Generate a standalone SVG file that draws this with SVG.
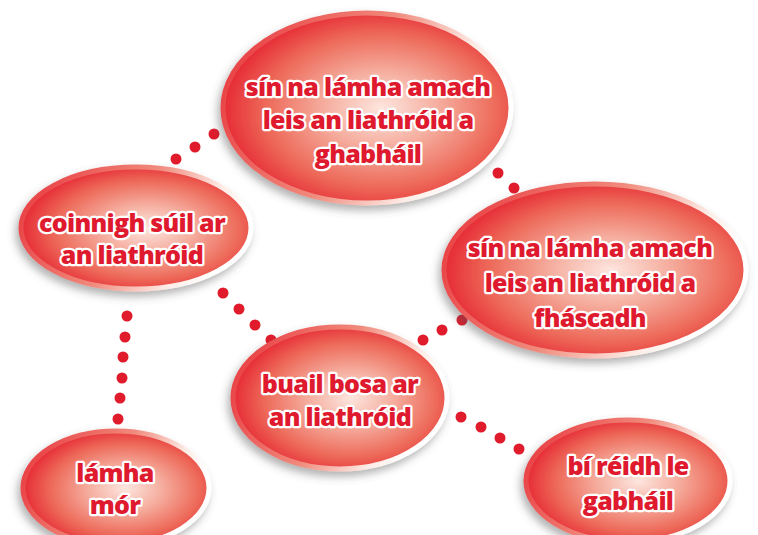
<svg xmlns="http://www.w3.org/2000/svg" width="758" height="535" viewBox="0 0 758 535">
<defs>
<radialGradient id="fill" cx="0.55" cy="0.52" r="0.58" fx="0.55" fy="0.5">
<stop offset="0" stop-color="#fde6df"/>
<stop offset="0.35" stop-color="#f5ac9d"/>
<stop offset="0.7" stop-color="#ed6858"/>
<stop offset="1" stop-color="#e51e2e"/>
</radialGradient>
<linearGradient id="rim" x1="0" y1="0" x2="1" y2="0.3">
<stop offset="0" stop-color="#e8333b"/>
<stop offset="0.55" stop-color="#f08a7c"/>
<stop offset="0.85" stop-color="#fdece6"/>
<stop offset="1" stop-color="#ffffff"/>
</linearGradient>
<filter id="sh" x="-20%" y="-20%" width="140%" height="150%">
<feDropShadow dx="-3" dy="5" stdDeviation="4" flood-color="#555" flood-opacity="0.45"/>
</filter>
</defs>
<style>
.node ellipse{fill:url(#fill);stroke:url(#rim);stroke-width:5;filter:url(#sh)}
.node text{font-family:"Open Sans","Liberation Sans",Arial,sans-serif;font-weight:800;font-size:25px;letter-spacing:-0.7px;fill:#df1a2e;stroke:#ffffff;stroke-width:4.5;stroke-linejoin:round;paint-order:stroke;text-anchor:middle}
.dot{fill:#e01b2c}
</style>
<rect width="758" height="535" fill="#ffffff"/>
<g id="connectors">
<circle class="dot" cx="176" cy="159" r="5.5"/>
<circle class="dot" cx="195" cy="147" r="5.5"/>
<circle class="dot" cx="214" cy="134" r="5.5"/>
<circle class="dot" cx="498" cy="173" r="5.5"/>
<circle class="dot" cx="514" cy="188" r="5.5"/>
<circle class="dot" cx="223" cy="293" r="5.5"/>
<circle class="dot" cx="239" cy="309" r="5.5"/>
<circle class="dot" cx="255" cy="325" r="5.5"/>
<circle class="dot" cx="271" cy="340" r="5.5"/>
<circle class="dot" cx="127" cy="316" r="5.5"/>
<circle class="dot" cx="125" cy="337" r="5.5"/>
<circle class="dot" cx="123" cy="357" r="5.5"/>
<circle class="dot" cx="122" cy="378" r="5.5"/>
<circle class="dot" cx="120" cy="398" r="5.5"/>
<circle class="dot" cx="118" cy="419" r="5.5"/>
<circle class="dot" cx="462" cy="320" r="5.5"/>
<circle class="dot" cx="442" cy="330" r="5.5"/>
<circle class="dot" cx="423" cy="340" r="5.5"/>
<circle class="dot" cx="461" cy="417" r="5.5"/>
<circle class="dot" cx="481" cy="427" r="5.5"/>
<circle class="dot" cx="500" cy="438" r="5.5"/>
<circle class="dot" cx="519" cy="449" r="5.5"/>
</g>
<g id="n1" class="node">
<ellipse cx="367" cy="108" rx="144" ry="95"/>
<text x="368" y="96">sín na lámha amach</text>
<text x="368" y="129">leis an liathróid a</text>
<text x="368" y="163">ghabháil</text>
</g>
<g id="n2" class="node">
<ellipse cx="136" cy="228" rx="115" ry="61"/>
<text x="132" y="232">coinnigh súil ar</text>
<text x="132" y="264">an liathróid</text>
</g>
<g id="n3" class="node">
<ellipse cx="595" cy="270" rx="151" ry="86"/>
<text x="590" y="257">sín na lámha amach</text>
<text x="590" y="292">leis an liathróid a</text>
<text x="590" y="327">fháscadh</text>
</g>
<g id="n4" class="node">
<ellipse cx="340" cy="398" rx="107" ry="71"/>
<text x="340" y="393">buail bosa ar</text>
<text x="340" y="426">an liathróid</text>
</g>
<g id="n5" class="node">
<ellipse cx="116" cy="488" rx="93" ry="57"/>
<text x="115" y="482">lámha</text>
<text x="115" y="514">mór</text>
</g>
<g id="n6" class="node">
<ellipse cx="628" cy="481" rx="102" ry="61"/>
<text x="628" y="475">bí réidh le</text>
<text x="628" y="510">gabháil</text>
</g>
</svg>
